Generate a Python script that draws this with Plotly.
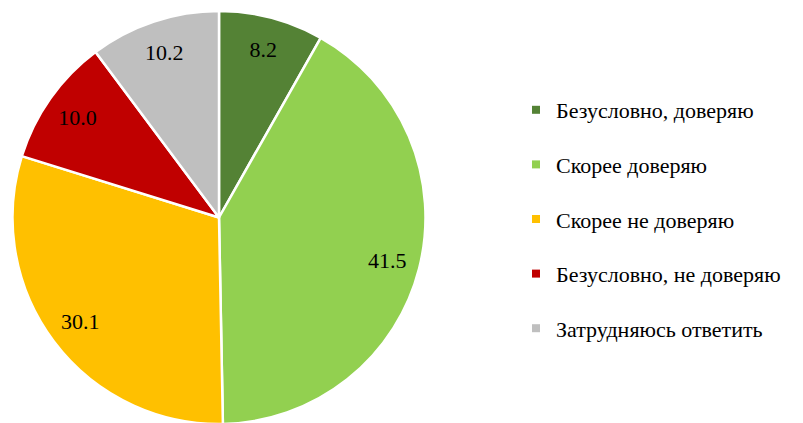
import plotly.graph_objects as go

# data
labels = ['Безусловно, доверяю', 'Скорее доверяю', 'Скорее не доверяю',
          'Безусловно, не доверяю', 'Затрудняюсь ответить']
values = [8.2, 41.5, 30.1, 10.0, 10.2]
colors = ['#548235', '#92D050', '#FFC000', '#C00000', '#BFBFBF']

W, H = 803, 423
FONT = 'Liberation Serif'
FS = 22
dom = dict(x=[3 / W, 419 / W], y=[7 / H, 1 - 3 / H])

fig = go.Figure()

# the slices
fig.add_trace(go.Pie(
    labels=labels,
    values=values,
    sort=False,
    direction='clockwise',
    rotation=0,
    marker=dict(colors=colors, line=dict(color='white', width=2.5)),
    textinfo='none',
    hoverinfo='label+value',
    showlegend=False,
    domain=dom,
))

# value labels, pushed out toward the rim with a transparent ring
fig.add_trace(go.Pie(
    labels=labels,
    values=values,
    sort=False,
    direction='clockwise',
    rotation=0,
    hole=0.68,
    marker=dict(colors=['rgba(0,0,0,0)'] * len(values), line=dict(width=0)),
    texttemplate='%{value:.1f}',
    textposition='inside',
    insidetextorientation='horizontal',
    textfont=dict(family=FONT, size=FS, color='black'),
    hoverinfo='skip',
    showlegend=False,
    domain=dom,
))

# legend entries (one per slice, so the gap between them can be set)
for lab, col in zip(labels, colors):
    fig.add_trace(go.Scatter(
        x=[None], y=[None], mode='markers', name=lab, legendgroup=lab,
        marker=dict(symbol='square', size=8, color=col),
    ))

fig.update_layout(
    width=W, height=H,
    margin=dict(l=0, r=0, t=0, b=0),
    paper_bgcolor='white',
    plot_bgcolor='white',
    font=dict(family=FONT, size=FS, color='black'),
    xaxis=dict(visible=False),
    yaxis=dict(visible=False),
    legend=dict(
        x=508 / W, y=1 - 81 / H, xanchor='left', yanchor='top',
        tracegroupgap=23, itemwidth=30,
        font=dict(family=FONT, size=FS, color='black'),
        bgcolor='rgba(0,0,0,0)',
    ),
)

fig.write_html("out.html")
